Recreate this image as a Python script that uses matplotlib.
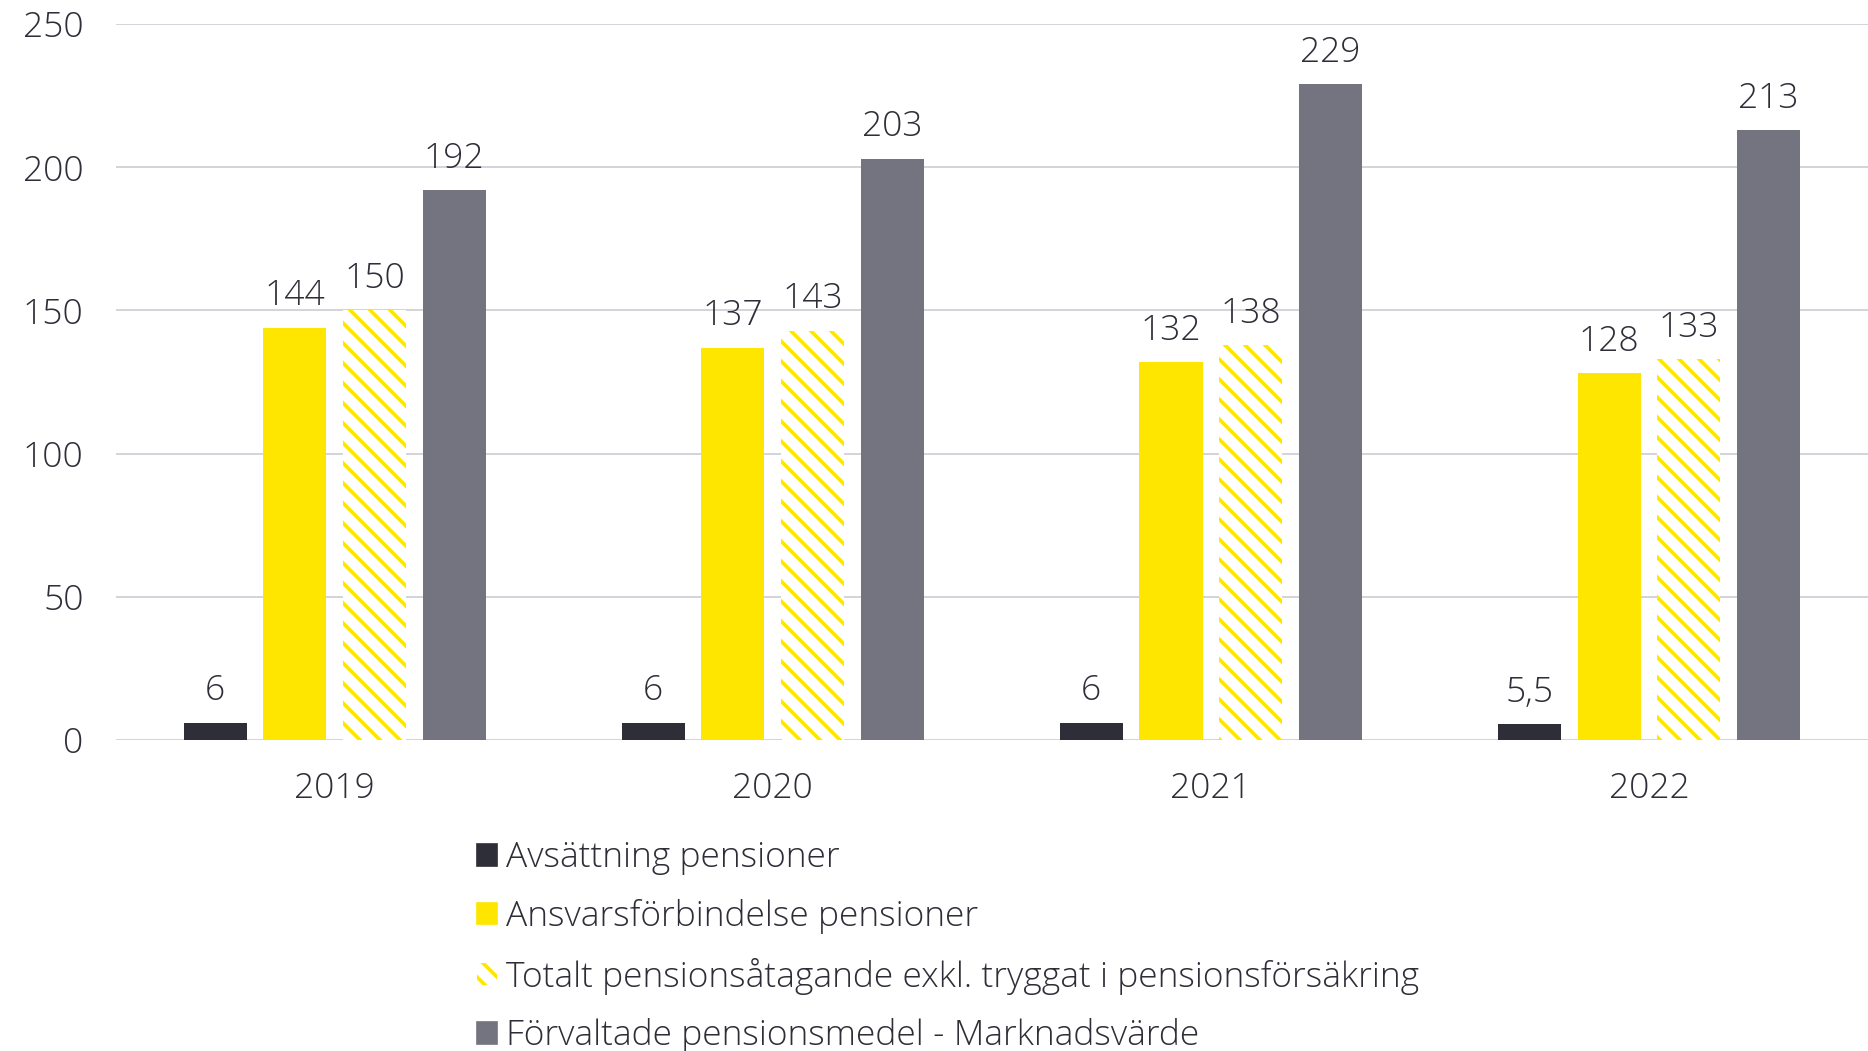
import matplotlib
matplotlib.use("Agg")
import matplotlib.pyplot as plt
import numpy as np
from matplotlib.patches import Patch

years = ["2019", "2020", "2021", "2022"]
series_names = [
    "Avsättning pensioner",
    "Ansvarsförbindelse pensioner",
    "Totalt pensionsåtagande exkl. tryggat i pensionsförsäkring",
    "Förvaltade pensionsmedel - Marknadsvärde",
]
avsattning = [6, 6, 6, 5.5]
ansvar = [144, 137, 132, 128]
totalt = [150, 143, 138, 133]
forvaltade = [192, 203, 229, 213]
yticks = [0, 50, 100, 150, 200, 250]

TEXT = "#2E2E38"
DARK = "#2E2E38"
YELLOW = "#FFE600"
GREY = "#747480"
GRID = "#D4D4DA"

DPI = 120


def px(v):
    return v * 72.0 / DPI


plt.rcParams["font.family"] = ["Open Sans", "DejaVu Sans"]
plt.rcParams["font.weight"] = "light"
plt.rcParams["hatch.linewidth"] = px(3.6)

fig = plt.figure(figsize=(1868 / DPI, 1051 / DPI), dpi=DPI)
ax = fig.add_axes([0.0619, 0.296, 0.9381, 0.681])

x = np.arange(len(years))
w = 0.144
step = 0.182
offsets = [-1.5 * step, -0.5 * step, 0.5 * step, 1.5 * step]
data = [avsattning, ansvar, totalt, forvaltade]
FS = px(35.4)

def fmt(v):
    return ("%g" % v).replace(".", ",")

styles = [
    dict(color=DARK),
    dict(color=YELLOW),
    dict(facecolor="white", edgecolor=YELLOW, hatch="\\\\", linewidth=0),
    dict(color=GREY),
]
for vals, off, st in zip(data, offsets, styles):
    bars = ax.bar(x + off, vals, w, zorder=3, **st)
    for b, v in zip(bars, vals):
        ax.text(b.get_x() + b.get_width() / 2, v + 5, fmt(v), ha="center",
                va="bottom", fontsize=FS, color=TEXT)

ax.set_xlim(-0.5, 3.5)
ax.set_ylim(0, 250)
ax.set_yticks(yticks)
ax.set_xticks(x)
ax.set_xticklabels(years)
ax.tick_params(axis="both", length=0, labelsize=FS, labelcolor=TEXT)
ax.tick_params(axis="y", pad=px(32))
ax.tick_params(axis="x", pad=px(32))
ax.grid(axis="y", color=GRID, linewidth=px(2.0), zorder=0)
for s in ax.spines.values():
    s.set_visible(False)

handles = [
    Patch(color=DARK),
    Patch(color=YELLOW),
    Patch(facecolor="white", edgecolor=YELLOW, hatch="\\\\", linewidth=0),
    Patch(color=GREY),
]
fig.legend(handles, series_names, loc="upper left",
           bbox_to_anchor=(0.2555, 0.2), frameon=False, fontsize=FS,
           handlelength=0.56, handleheight=0.56, handletextpad=0.25,
           labelspacing=0.67, borderpad=0, borderaxespad=0, labelcolor=TEXT)

fig.savefig("out.png", dpi=DPI)
